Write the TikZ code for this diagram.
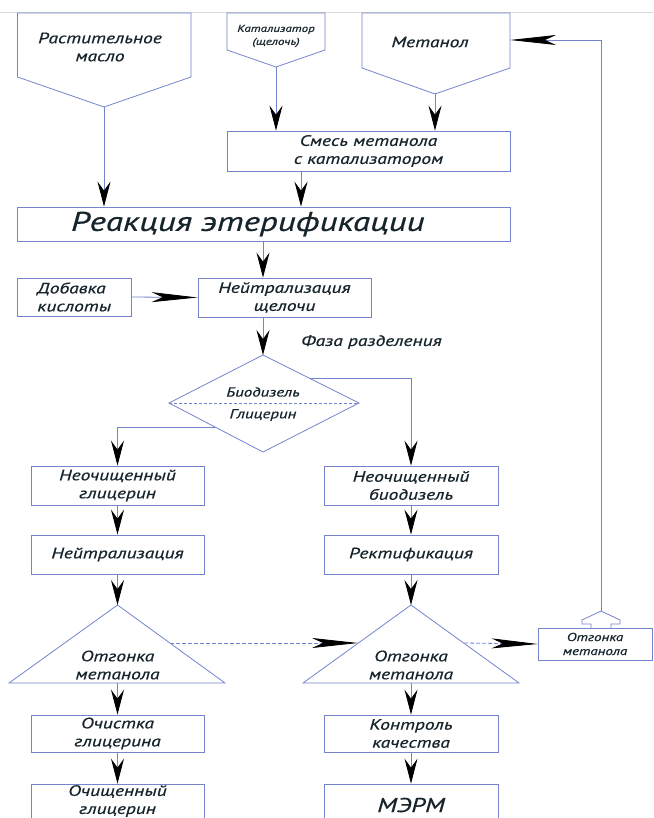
\documentclass[tikz,border=0pt]{standalone}
\usepackage{fontspec}
\newfontfamily\gost[FakeStretch=1.3,FakeBold=0.6]{PT Sans}
\usetikzlibrary{arrows.meta}
\definecolor{lc}{RGB}{118,132,205}
\definecolor{tc}{RGB}{22,36,44}
\begin{document}
\begin{tikzpicture}[x=1pt,y=-1pt,
  line/.style={draw=lc, line width=0.8pt},
  fn/.style={font=\gost\itshape\fontsize{15}{18}\selectfont},
  fs/.style={font=\gost\itshape\fontsize{10}{13}\selectfont},
  fm/.style={font=\gost\itshape\fontsize{13}{15}\selectfont},
  fl/.style={font=\gost\itshape\fontsize{27}{30}\selectfont},
  txt/.style={align=center, inner sep=0pt, text=tc, fn},
  box/.style={line, rectangle, inner sep=0pt, align=center, text=tc, fn},
  arr/.style={line, -{Stealth[length=25pt,width=13pt,inset=9pt,color=black]}},
  larr/.style={line, -{Stealth[length=46pt,width=10pt,inset=11pt,color=black]}},
  dlarr/.style={larr, dashed, dash pattern=on 4pt off 2pt}]
\useasboundingbox (0,0) rectangle (653,818);
\fill[white] (0,0) rectangle (653,818);
\draw[black!15, line width=1pt] (0,13) -- (653,13);

% ---- top pentagons ----
\draw[line] (17.5,13) -- (191,13) -- (191,77) -- (104,107) -- (17.5,77) -- cycle;
\coordinate (p1) at (104,107);
\node[txt] (t1) at (100,47) {Растительное\\масло};
\draw[line] (227,13) -- (325,13) -- (325,50) -- (276,67) -- (227,50) -- cycle;
\coordinate (p2) at (276,67);
\node[txt, fs] (t2) at (276,36) {Катализатор\\(щелочь)};
\draw[line] (362,13) -- (510,13) -- (510,68) -- (435,94) -- (362,68) -- cycle;
\coordinate (p3) at (435,94);
\coordinate (p3r) at (510,40);
\node[txt] (t3) at (430,42) {Метанол};

% ---- boxes ----
\node[box, minimum width=283pt, minimum height=40pt] (smes) at (368.5,151) {Смесь метанола\\с катализатором};
\node[box, fl, minimum width=492.5pt, minimum height=34pt] (reak) at (263.75,224) {\hspace*{-32pt}Реакция этерификации};
\node[box, align=left, minimum width=113.5pt, minimum height=38pt] (dob) at (74.25,297) {Добавка\\кислоты};
\node[box, minimum width=173pt, minimum height=39pt] (nsh) at (284.5,297.5) {Нейтрализация\\щелочи};
\node[txt, anchor=west] (faza) at (301,342) {Фаза разделения};

% ---- diamond ----
\coordinate (dt) at (263,355);
\coordinate (dl) at (169,403);
\coordinate (dr) at (359,403);
\coordinate (db) at (263,452);
\draw[line] (dt) -- (dr) -- (db) -- (dl) -- cycle;
\draw[line, dashed, dash pattern=on 3pt off 2pt] (dl) -- (dr);
\node[txt, fm] (bio) at (263,392) {Биодизель};
\node[txt, fm] (gli) at (263,415) {Глицерин};
\coordinate (dur) at (309,378);
\coordinate (dll) at (215,427);

\node[box, minimum width=173pt, minimum height=39pt] (ngl) at (117.5,485.5) {Неочищенный\\глицерин};
\node[box, minimum width=174pt, minimum height=39pt] (nbd) at (411,485.5) {Неочищенный\\биодизель};
\node[box, minimum width=173pt, minimum height=39pt] (neut) at (117.5,554.5) {Нейтрализация};
\node[box, minimum width=174pt, minimum height=39pt] (rekt) at (411,554.5) {Ректификация};

% ---- triangles ----
\draw[line] (117.5,605) -- (225,683) -- (9,683) -- cycle;
\coordinate (lta) at (117.5,605);
\coordinate (ltb) at (117.5,683);
\coordinate (ltr) at (170,643);
\node[txt] (lt) at (117.5,665) {Отгонка\\метанола};
\draw[line] (411,605) -- (519,683) -- (303,683) -- cycle;
\coordinate (rta) at (411,605);
\coordinate (rtb) at (411,683);
\coordinate (rtl) at (358,643);
\coordinate (rtr) at (464,643);
\node[txt] (rt) at (411,665) {Отгонка\\метанола};

\node[box, font=\gost\itshape\fontsize{11.5}{14}\selectfont, minimum width=114pt, minimum height=32pt] (otg) at (595,644) {Отгонка\\метанола};

\node[box, minimum width=173pt, minimum height=37pt] (och) at (117.5,733.5) {Очистка\\глицерина};
\node[box, minimum width=174pt, minimum height=37pt] (kont) at (411,733.5) {Контроль\\качества};
\node[box, minimum width=173pt, minimum height=42pt] (ochgl) at (117.5,805) {};
\node[txt] at (117.5,801) {Очищенный\\глицерин};
\node[box, minimum width=174pt, minimum height=42pt] (merm) at (411,805) {};
\node[txt, font=\gost\itshape\fontsize{20}{22}\selectfont] at (411,805) {МЭРМ};

% ---- connectors ----
\draw[arr] (p1) -- (p1 |- reak.north);
\draw[arr] (p2) -- (p2 |- smes.north);
\draw[arr] (p3) -- (p3 |- smes.north);
\draw[arr] (smes.south -| 301,0) -- (reak.north -| 301,0);
\draw[arr] (reak.south -| dt) -- (nsh.north -| dt);
\draw[larr] (dob.east) -- (nsh.west);
\draw[arr] (nsh.south -| dt) -- (dt);
\draw[arr] (dur) -| (nbd.north);
\draw[arr] (dll) -| (ngl.north);
\draw[arr] (ngl.south) -- (neut.north);
\draw[arr] (nbd.south) -- (rekt.north);
\draw[arr] (neut.south) -- (lta);
\draw[arr] (rekt.south) -- (rta);
\draw[arr] (ltb) -- (och.north);
\draw[arr] (rtb) -- (kont.north);
\draw[arr] (och.south) -- (ochgl.north);
\draw[arr] (kont.south) -- (merm.north);
\draw[dlarr] (ltr) -- (rtl);
\draw[dlarr] (rtr) -- (otg.west);

% hollow arrow and feedback
\coordinate (ha) at (601,611);
\draw[line] (591,628) -- (591,624) -- (582,624) -- (582,620) -- (ha) -- (620,620) -- (620,624) -- (611,624) -- (611,628);
\draw[larr] (ha) -- (601,40) -- (p3r);
\end{tikzpicture}
\end{document}
